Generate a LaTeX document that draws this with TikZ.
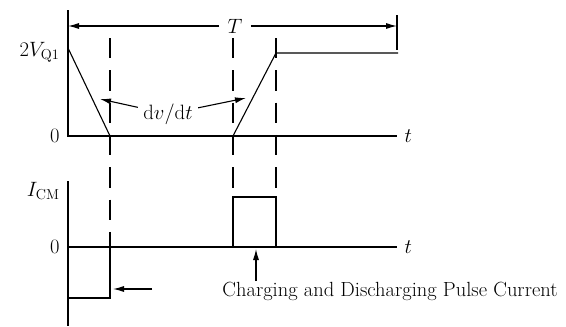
\documentclass[tikz,border=0pt]{standalone}
\usepackage{amsmath}
\usepackage{tikz}
\usetikzlibrary{arrows.meta, positioning}

\begin{document}
\begin{tikzpicture}[x=1pt, y=-1pt, font=\fontsize{20.5}{24}\selectfont, >={Latex[length=11pt, width=6pt]}, line width=1.1pt,
    guide/.style={line width=1.1pt, dash pattern=on 20.3pt off 12pt},
    lbl/.style={inner sep=1pt}]
    \useasboundingbox (0,0) rectangle (566,327);

    % Upper trace (voltage)
    \node[lbl, anchor=east] (vhigh) at (61,52) {$2V_{\mathrm{Q1}}$};
    \node[lbl, anchor=east] (vzero) at (61,136) {0};
    \node[lbl, anchor=west] (vt) at (403,136) {$t$};
    \draw (68,10) -- (68,136) -- (397,136);
    \draw (68,48) -- (110,136);
    \draw (233,136) -- (276,53) -- (398,53);

    % Period T
    \node[lbl, inner xsep=8pt] (T) at (235,26) {$T$};
    \coordinate (Tl) at (68,26);
    \coordinate (Tr) at (397,26);
    \draw[->] (T) -- (Tl);
    \draw[->] (T) -- (Tr);
    \draw (397,15) -- (397,50);

    % Slope label
    \node[lbl, inner sep=5pt] (slope) at (168,114) {$\mathrm{d}v/\mathrm{d}t$};
    \coordinate (sl) at (100,99);
    \coordinate (sr) at (246,98);
    \draw[->] (slope) -- (sl);
    \draw[->] (slope) -- (sr);

    % Guide lines
    \draw[guide] (110,38) -- (110,247);
    \draw[guide] (233,38) -- (233,197);
    \draw[guide] (276,38) -- (276,197);

    % Lower trace (current)
    \node[lbl, anchor=east] (ilabel) at (61,191) {$I_{\mathrm{CM}}$};
    \node[lbl, anchor=east] (izero) at (61,247) {0};
    \node[lbl, anchor=west] (it) at (403,247) {$t$};
    \draw (68,181) -- (68,326);
    \draw (68,247) -- (397,247);
    \draw (68,298) -- (110,298) -- (110,247);
    \draw (233,247) -- (233,197) -- (276,197) -- (276,247);

    % Pulse pointers
    \coordinate (negtip) at (113,289);
    \coordinate (negtail) at (152,289);
    \draw[->] (negtail) -- (negtip);
    \node[lbl, anchor=north] (pulse) at (390,281) {Charging and Discharging Pulse Current};
    \coordinate (postip) at (256,249);
    \draw[->] (pulse.north -| postip) -- (postip);
\end{tikzpicture}
\end{document}
